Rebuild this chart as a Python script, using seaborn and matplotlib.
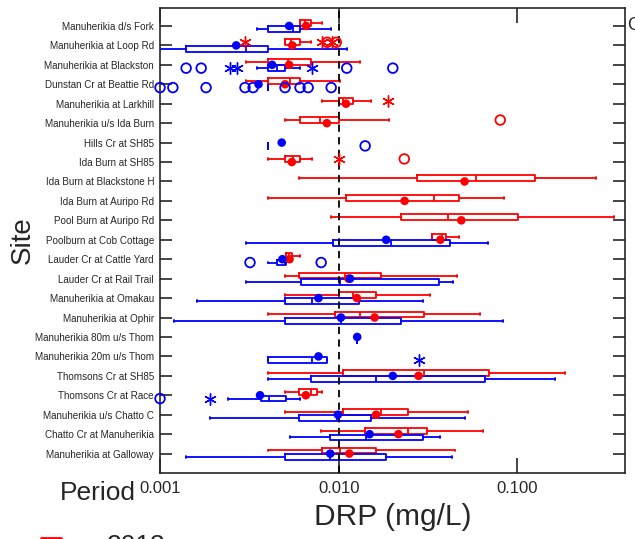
import matplotlib
matplotlib.use("Agg")
import matplotlib.pyplot as plt
from matplotlib.lines import Line2D
import numpy as np
import pandas as pd
import seaborn as sns

nan = np.nan

sites = [
    "Manuherikia d/s Fork", "Manuherikia at Loop Rd", "Manuherikia at Blackston",
    "Dunstan Cr at Beattie Rd", "Manuherikia at Larkhill", "Manuherikia u/s Ida Burn",
    "Hills Cr at SH85", "Ida Burn at SH85", "Ida Burn at Blackstone H",
    "Ida Burn at Auripo Rd", "Pool Burn at Auripo Rd", "Poolburn at Cob Cottage",
    "Lauder Cr at Cattle Yard", "Lauder Cr at Rail Trail", "Manuherikia at Omakau",
    "Manuherikia at Ophir", "Manuherikia 80m u/s Thom", "Manuherikia 20m u/s Thom",
    "Thomsons Cr at SH85", "Thomsons Cr at Race", "Manuherikia u/s Chatto C",
    "Chatto Cr at Manuherikia", "Manuherikia at Galloway",
]

periods = ["2013", "pre-2013"]
period_colors = ["#ff0000", "#0000ff"]

# box summaries (mg/L), red period
red_low = [.00608, .00501, .00303, .00303, .00805, .00501, nan, .00401, .00603, .00401, .00904, .0333,
           .00506, .00501, .00501, .00401, nan, nan, .00401, .00501, .00501, .00798, .00401]
red_q1 = [.00608, .00501, .00403, .00403, .0101, .00608, nan, .00501, .0274, .0110, .0223, .0333,
          .00506, .00603, .0101, .00955, nan, nan, .01064, .00596, .01064, .0141, .00805]
red_med = [.00649, .00542, .00521, .00535, .0106, .00788, nan, .00556, .0589, .0343, .0412, .0379,
           .0053, .01087, .0121, .0132, nan, nan, .0301, .00698, .0173, .0243, .0102]
red_q3 = [.00702, .00608, .00702, .00608, .0121, .0101, nan, .00608, .126, .0473, .1007, .0399,
          .00547, .0173, .0162, .0299, nan, nan, .0697, .00754, .0243, .0314, .0162]
red_high = [.00809, .00702, .0132, .0102, .0152, .0192, nan, .00708, .276, .0838, .347, .0469,
            .00608, .0459, .0326, .0621, nan, nan, .184, .00812, .0533, .0642, .0450]
red_mean = [.00657, .0055, .00528, .00501, .0110, .00859, nan, .00547, .0507, .0234, .0486, .0371,
            .00531, .01135, .01265, .0159, nan, nan, .028, .00655, .0162, .0216, .01148]

# box summaries (mg/L), blue period
blue_low = [.0035, .001, .0035, .00403, nan, nan, .00401, nan, nan, nan, nan, .00302,
            .00401, .00302, .00161, .0012, .0127, .00401, .00401, .00239, .0019, .00531, .0014]
blue_q1 = [.00403, .0014, .00403, .00403, nan, nan, .00401, nan, nan, nan, nan, .00928,
           .00454, .00614, .00501, .00501, .0127, .00401, .007, .00368, .00603, .00897, .00501]
blue_med = [.00556, .00303, .00452, .00403, nan, nan, .00401, nan, nan, nan, nan, .0196,
            .005, .0102, .00708, .0103, .0127, .00708, .0162, .00405, .00977, .01416, .00897]
blue_q3 = [.00608, .00403, .00501, .00403, nan, nan, .00401, nan, nan, nan, nan, .0421,
           .00506, .0366, .01306, .0223, .0127, .00859, .0656, .00506, .0152, .0295, .01838]
blue_high = [.00908, .01116, .00608, .00403, nan, nan, .00401, nan, nan, nan, nan, .0685,
             .00506, .0436, .0296, .0828, .0127, .00859, .163, .00608, .0507, .0367, .0431]
blue_mean = [.00528, .00267, .00424, .00356, nan, nan, .0048, nan, nan, nan, nan, .01845,
             .00484, .01159, .00771, .0103, .0127, .00771, .0201, .00363, .0099, .0149, .00897]

# outliers (circle) and extremes (asterisk)
out_site = [1, 1, 5, 7, 1, 1, 1, 4, 7,
            2, 2, 2, 2, 3, 3, 3, 3, 3, 3, 3, 3, 3, 6, 12, 12, 19,
            2, 2, 2, 17, 19]
out_period = ["2013"] * 9 + ["pre-2013"] * 22
out_kind = ["outlier"] * 4 + ["extreme"] * 5 + ["outlier"] * 17 + ["extreme"] * 5
out_value = [.00862, .0097, .0803, .0233, .00299, .00809, .0092, .0189, .0101,
             .0014, .0017, .0111, .0201, .001, .00118, .00181, .00299, .00332, .00501, .00608,
             .00675, .00908, .01407, .00319, .00798, .001,
             .00247, .0027, .00711, .0282, .0019]

sns.set_style("ticks")
plt.rcParams["font.family"] = ["Liberation Sans", "DejaVu Sans"]

fig, ax = plt.subplots(figsize=(6.35, 5.39), dpi=100)
fig.subplots_adjust(left=0.252, right=0.984, bottom=0.1224, top=0.985)

rows = np.arange(len(sites))
offsets = {"2013": -0.16, "pre-2013": 0.17}

summaries = [
    ("2013", period_colors[0], red_low, red_q1, red_med, red_q3, red_high),
    ("pre-2013", period_colors[1], blue_low, blue_q1, blue_med, blue_q3, blue_high),
]
for period, color, lo, q1, med, q3, hi in summaries:
    stats, pos = [], []
    for i in rows:
        if np.isnan(med[i]):
            continue
        stats.append(dict(whislo=lo[i], q1=q1[i], med=med[i], q3=q3[i], whishi=hi[i], fliers=[]))
        pos.append(i + offsets[period])
    line = dict(color=color, linewidth=1.3)
    ax.bxp(stats, positions=pos, widths=0.3, orientation="horizontal", showfliers=False,
           capwidths=0.1, boxprops=line, whiskerprops=line, capprops=line,
           medianprops=line, manage_ticks=False)

ax.axvline(0.01, color="black", linestyle=(0, (4, 3)), linewidth=1.3, zorder=3)

means = pd.DataFrame({
    "site": list(rows) * 2,
    "period": ["2013"] * len(sites) + ["pre-2013"] * len(sites),
    "mean": red_mean + blue_mean,
}).dropna()
sns.scatterplot(data=means, x="mean", y="site", hue="period", palette=period_colors,
                hue_order=periods, s=38, edgecolor="face", linewidth=0, legend=False,
                zorder=4, ax=ax)

outs = pd.DataFrame({"site": out_site, "period": out_period, "kind": out_kind, "value": out_value})
outs["pos"] = outs["site"] + outs["period"].map(offsets)
for period, color in zip(periods, period_colors):
    sub = outs[(outs["period"] == period) & (outs["kind"] == "outlier")]
    sns.scatterplot(data=sub, x="value", y="pos", s=48, facecolor="none", edgecolor=color,
                    linewidth=1.3, legend=False, zorder=4, clip_on=False, ax=ax)
    sub = outs[(outs["period"] == period) & (outs["kind"] == "extreme")]
    sns.scatterplot(data=sub, x="value", y="pos", s=70, marker=(6, 2, 0), color=color,
                    linewidth=1.0, legend=False, zorder=4, clip_on=False, ax=ax)

ax.set_xscale("log")
ax.set_xlim(0.001, 0.4)
ax.set_xticks([0.001, 0.01, 0.1])
ax.set_xticklabels(["0.001", "0.010", "0.100"], fontsize=12)
ax.xaxis.set_minor_locator(matplotlib.ticker.NullLocator())
ax.set_yticks(rows)
ax.set_yticklabels(sites, fontsize=7.1)
ax.set_ylim(23.0, -0.92)
ax.tick_params(axis="x", direction="in", length=10.5, width=1.2, pad=6, top=True)
ax.tick_params(axis="y", direction="in", length=8.6, width=1.2, pad=4.3, right=True)
for sp in ax.spines.values():
    sp.set_linewidth(1.2)
    sp.set_visible(True)

ax.set_xlabel("DRP (mg/L)", fontsize=21.5)
ax.xaxis.label.set_va("center")
ax.xaxis.set_label_coords(0.5, -0.0946)
ax.set_ylabel("Site", fontsize=20)
ax.yaxis.label.set_va("center")
ax.yaxis.set_label_coords(-0.2946, 0.5)

# legend, cut off by the bottom edge as in the original
fig.text(60 / 635, 1 - 493 / 539, "Period", fontsize=19, ha="left", va="center")
fig.add_artist(Line2D([41 / 635, 61 / 635], [1 - 538 / 539] * 2, color=period_colors[0],
                      linewidth=2, transform=fig.transFigure))
fig.text(107 / 635, 1 - 534 / 539, "2013", fontsize=19, ha="left", va="top")
fig.text(627 / 635, 1 - 25 / 539, "C", fontsize=13, ha="left", va="center")

fig.savefig("out.png", dpi=100)
